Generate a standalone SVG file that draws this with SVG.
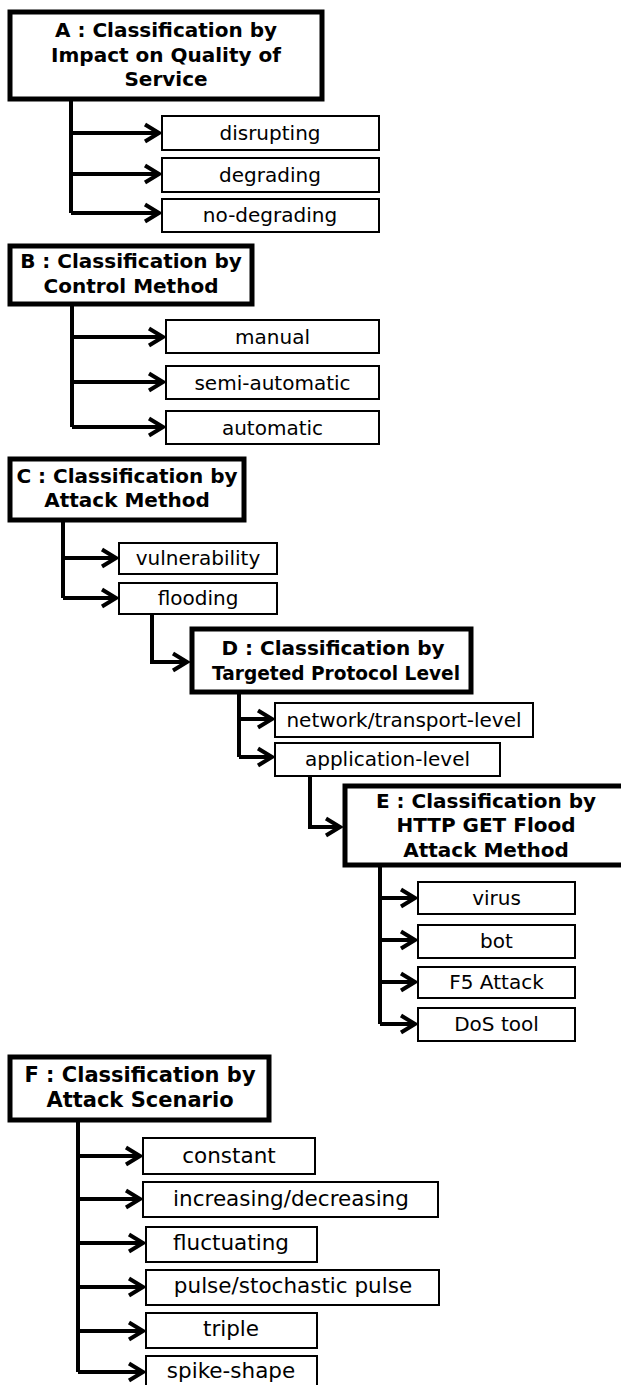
<svg xmlns="http://www.w3.org/2000/svg" width="621" height="1385" viewBox="0 0 621 1385">
  <style>
    .hdr { fill: #fff; stroke: #000; stroke-width: 5; }
    .box { fill: #fff; stroke: #000; stroke-width: 2; }
    .ht { font-family: "DejaVu Sans", Verdana, sans-serif; font-weight: bold; font-size: 20px; text-anchor: middle; fill: #000; }
    .bt { font-family: "DejaVu Sans", Verdana, sans-serif; font-size: 20px; text-anchor: middle; fill: #000; }
    .big { font-size: 21px; }
    .bigc { font-size: 21.5px; }
    .ln { fill: none; stroke: #000; stroke-width: 4; }
    .ar { fill: none; stroke: #000; stroke-width: 4; marker-end: url(#chev); }
  </style>
  <defs>
    <marker id="chev" markerUnits="userSpaceOnUse" markerWidth="24" markerHeight="24" refX="17" refY="12" orient="auto" overflow="visible">
      <path d="M3,3.5 L17,12 L3,20.5" fill="none" stroke="#000" stroke-width="4"/>
    </marker>
  </defs>
  <rect width="621" height="1385" fill="#fff"/>

  <!-- connectors -->
  <g id="connectors">
    <!-- A -->
    <path class="ln" d="M71,99 V213"/>
    <path class="ar" d="M69,133 H159"/>
    <path class="ar" d="M69,174 H159"/>
    <path class="ar" d="M71,213 H159"/>
    <!-- B -->
    <path class="ln" d="M72,304 V427"/>
    <path class="ar" d="M70,337 H163"/>
    <path class="ar" d="M70,382 H163"/>
    <path class="ar" d="M72,427 H163"/>
    <!-- C -->
    <path class="ln" d="M63,520 V598"/>
    <path class="ar" d="M61,558 H116"/>
    <path class="ar" d="M63,598 H116"/>
    <!-- flooding to D -->
    <path class="ar" d="M152,614 V662 H187"/>
    <!-- D -->
    <path class="ln" d="M239,692 V757"/>
    <path class="ar" d="M237,719 H272"/>
    <path class="ar" d="M239,757 H272"/>
    <!-- application-level to E -->
    <path class="ar" d="M310,776 V827 H340"/>
    <!-- E -->
    <path class="ln" d="M380,865 V1024"/>
    <path class="ar" d="M378,898 H415"/>
    <path class="ar" d="M378,940 H415"/>
    <path class="ar" d="M378,982 H415"/>
    <path class="ar" d="M380,1024 H415"/>
    <!-- F -->
    <path class="ln" d="M78,1120 V1372"/>
    <path class="ar" d="M76,1156 H140"/>
    <path class="ar" d="M76,1199 H140"/>
    <path class="ar" d="M76,1243 H143"/>
    <path class="ar" d="M76,1287 H143"/>
    <path class="ar" d="M76,1331 H143"/>
    <path class="ar" d="M78,1372 H143"/>
  </g>

  <!-- A -->
  <g id="nodeA">
    <rect class="hdr" x="10" y="12" width="312" height="87"/>
    <text class="ht" x="166" y="37">A : Classification by</text>
    <text class="ht" x="166" y="62">Impact on Quality of</text>
    <text class="ht" x="166" y="86">Service</text>
  </g>
  <g id="nodeA1"><rect class="box" x="162" y="116" width="217" height="34"/><text class="bt" x="270" y="140">disrupting</text></g>
  <g id="nodeA2"><rect class="box" x="162" y="158" width="217" height="34"/><text class="bt" x="270" y="182">degrading</text></g>
  <g id="nodeA3"><rect class="box" x="162" y="199" width="217" height="33"/><text class="bt" x="270" y="222">no-degrading</text></g>

  <!-- B -->
  <g id="nodeB">
    <rect class="hdr" x="10" y="246" width="242" height="58"/>
    <text class="ht" x="131" y="268">B : Classification by</text>
    <text class="ht" x="131" y="293">Control Method</text>
  </g>
  <g id="nodeB1"><rect class="box" x="166" y="320" width="213" height="33"/><text class="bt" x="272.5" y="344">manual</text></g>
  <g id="nodeB2"><rect class="box" x="166" y="366" width="213" height="33"/><text class="bt" x="272.5" y="390">semi-automatic</text></g>
  <g id="nodeB3"><rect class="box" x="166" y="411" width="213" height="33"/><text class="bt" x="272.5" y="435">automatic</text></g>

  <!-- C -->
  <g id="nodeC">
    <rect class="hdr" x="10" y="459" width="234" height="61"/>
    <text class="ht" x="127" y="483">C : Classification by</text>
    <text class="ht" x="127" y="507">Attack Method</text>
  </g>
  <g id="nodeC1"><rect class="box" x="119" y="543" width="158" height="31"/><text class="bt" x="198" y="565">vulnerability</text></g>
  <g id="nodeC2"><rect class="box" x="119" y="583" width="158" height="31"/><text class="bt" x="198" y="605">flooding</text></g>

  <!-- D -->
  <g id="nodeD">
    <rect class="hdr" x="192" y="629" width="279" height="63"/>
    <text class="ht" x="333" y="655">D : Classification by</text>
    <text class="ht" x="336" y="680" textLength="248" lengthAdjust="spacingAndGlyphs">Targeted Protocol Level</text>
  </g>
  <g id="nodeD1"><rect class="box" x="275" y="703" width="258" height="34"/><text class="bt" x="404" y="727">network/transport-level</text></g>
  <g id="nodeD2"><rect class="box" x="275" y="743" width="225" height="33"/><text class="bt" x="387.5" y="766">application-level</text></g>

  <!-- E -->
  <g id="nodeE">
    <rect class="hdr" x="345" y="786" width="290" height="79"/>
    <text class="ht" x="486" y="808">E : Classification by</text>
    <text class="ht" x="486" y="832">HTTP GET Flood</text>
    <text class="ht" x="486" y="857">Attack Method</text>
  </g>
  <g id="nodeE1"><rect class="box" x="418" y="882" width="157" height="32"/><text class="bt" x="496.5" y="905">virus</text></g>
  <g id="nodeE2"><rect class="box" x="418" y="925" width="157" height="33"/><text class="bt" x="496.5" y="948">bot</text></g>
  <g id="nodeE3"><rect class="box" x="418" y="967" width="157" height="31"/><text class="bt" x="496.5" y="989">F5 Attack</text></g>
  <g id="nodeE4"><rect class="box" x="418" y="1008" width="157" height="33"/><text class="bt" x="496.5" y="1031">DoS tool</text></g>

  <!-- F -->
  <g id="nodeF">
    <rect class="hdr" x="10" y="1057" width="259" height="63"/>
    <text class="ht big" x="140" y="1082">F : Classification by</text>
    <text class="ht big" x="140" y="1107">Attack Scenario</text>
  </g>
  <g id="nodeF1"><rect class="box" x="143" y="1138" width="172" height="36"/><text class="bt bigc" x="229" y="1163">constant</text></g>
  <g id="nodeF2"><rect class="box" x="143" y="1182" width="295" height="35"/><text class="bt bigc" x="291" y="1206">increasing/decreasing</text></g>
  <g id="nodeF3"><rect class="box" x="146" y="1227" width="171" height="35"/><text class="bt bigc" x="231" y="1250">fluctuating</text></g>
  <g id="nodeF4"><rect class="box" x="146" y="1270" width="293" height="35"/><text class="bt bigc" x="293" y="1293">pulse/stochastic pulse</text></g>
  <g id="nodeF5"><rect class="box" x="146" y="1313" width="171" height="35"/><text class="bt bigc" x="231" y="1336">triple</text></g>
  <g id="nodeF6"><rect class="box" x="146" y="1356" width="171" height="40"/><text class="bt bigc" x="231" y="1378">spike-shape</text></g>
</svg>
